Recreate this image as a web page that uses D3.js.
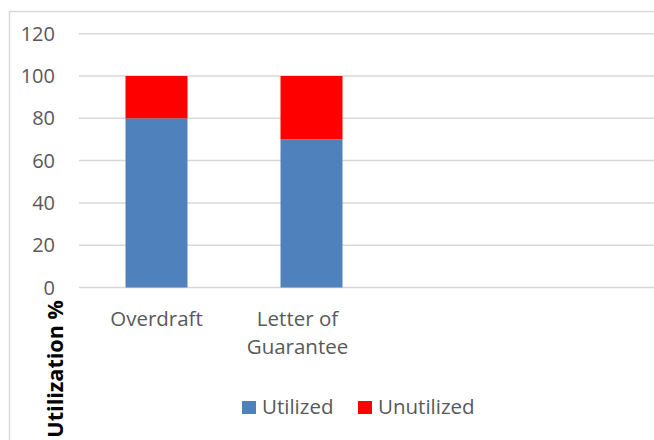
<!DOCTYPE html>
<html>
<head>
<meta charset="utf-8">
<script src="https://cdn.jsdelivr.net/npm/d3@7"></script>
<style>
  body { margin: 0; background: #fff; }
  text { font-family: 'Open Sans', sans-serif; }
</style>
</head>
<body>
<svg id="chart" width="654" height="440"></svg>
<script>
// data
let categories = [['Overdraft'], ['Letter of', 'Guarantee']]
let utilized = [80, 70]
let unutilized = [20, 30]
let seriesNames = ['Utilized', 'Unutilized']
let seriesColors = ['#4f81bd', '#ff0000']
let yTicks = [0, 20, 40, 60, 80, 100, 120]

let svg = d3.select('#chart')
let width = +svg.attr('width')
let height = +svg.attr('height')

// chart frame (cropped on right and bottom)
svg.append('path')
  .attr('d', 'M9.5,' + height + 'V11.5H' + width)
  .attr('fill', 'none')
  .attr('stroke', '#d9d9d9')
  .attr('stroke-width', 1.5)

let names = categories.map(function (c) { return c.join(' ') })

let x = d3.scaleBand()
  .domain(names)
  .range([79, 389])
  .paddingInner(0.6)
  .paddingOuter(0.3)

let y = d3.scaleLinear()
  .domain([0, 120])
  .range([287.5, 33.7])

// gridlines
svg.append('g')
  .selectAll('line')
  .data(yTicks)
  .enter().append('line')
  .attr('x1', 79)
  .attr('x2', width)
  .attr('y1', function (d) { return y(d) })
  .attr('y2', function (d) { return y(d) })
  .attr('stroke', '#d9d9d9')
  .attr('stroke-width', 1.5)

// y tick labels
svg.append('g')
  .selectAll('text')
  .data(yTicks)
  .enter().append('text')
  .attr('x', 55)
  .attr('y', function (d) { return y(d) + 7 })
  .attr('text-anchor', 'end')
  .attr('font-size', 20)
  .attr('fill', '#595959')
  .text(function (d) { return d })

// stacked bars
let rows = names.map(function (n, i) {
  return { name: n, Utilized: utilized[i], Unutilized: unutilized[i] }
})
let stack = d3.stack().keys(seriesNames)(rows)

svg.append('g')
  .selectAll('g')
  .data(stack)
  .enter().append('g')
  .attr('fill', function (d, i) { return seriesColors[i] })
  .selectAll('rect')
  .data(function (d) { return d })
  .enter().append('rect')
  .attr('x', function (d) { return x(d.data.name) })
  .attr('width', x.bandwidth())
  .attr('y', function (d) { return y(d[1]) })
  .attr('height', function (d) { return y(d[0]) - y(d[1]) })

// category labels
let cat = svg.append('g')
  .selectAll('text')
  .data(categories)
  .enter().append('text')
  .attr('text-anchor', 'middle')
  .attr('font-size', 20.5)
  .attr('fill', '#595959')
  .attr('transform', function (d, i) {
    let cx = x(names[i]) + x.bandwidth() / 2 - (d.length > 1 ? 14 : 0)
    return 'translate(' + cx + ',326)'
  })

cat.selectAll('tspan')
  .data(function (d) { return d })
  .enter().append('tspan')
  .attr('x', 0)
  .attr('y', function (d, i) { return i * 28 })
  .text(function (d) { return d })

// axis title
svg.append('text')
  .attr('transform', 'translate(63,300) rotate(-90)')
  .attr('text-anchor', 'end')
  .attr('font-size', 21.6)
  .attr('font-weight', 'bold')
  .attr('fill', '#000')
  .text('Utilization %')

// legend
let legendX = [242, 358]
let legend = svg.append('g')
  .selectAll('g')
  .data(seriesNames)
  .enter().append('g')
  .attr('transform', function (d, i) { return 'translate(' + legendX[i] + ',401)' })

legend.append('rect')
  .attr('width', 14)
  .attr('height', 13)
  .attr('fill', function (d, i) { return seriesColors[i] })

legend.append('text')
  .attr('x', 20)
  .attr('y', 13)
  .attr('font-size', 20.5)
  .attr('fill', '#595959')
  .text(function (d) { return d })
</script>
</body>
</html>
